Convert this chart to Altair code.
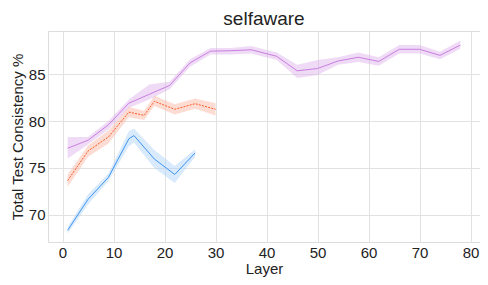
import altair as alt
import pandas as pd

# purple series
p_layers = [1, 5, 9, 13, 17, 21, 25, 29, 33, 37, 42, 46, 50, 54, 58, 62, 66, 70, 74, 78]
p_mean = [77.1, 77.95, 79.6, 81.9, 82.85, 83.8, 86.2, 87.45, 87.5, 87.6, 86.9, 85.35, 85.6, 86.4, 86.8, 86.35, 87.65, 87.65, 87.0, 88.1]
p_low = [76.0, 77.5, 79.1, 81.4, 82.3, 83.4, 85.8, 87.1, 87.1, 87.2, 86.5, 84.6, 84.9, 86.0, 86.3, 85.9, 87.2, 87.2, 86.6, 87.7]
p_high = [78.3, 78.3, 80.0, 82.3, 83.9, 84.2, 86.6, 87.8, 87.8, 88.0, 87.3, 86.0, 86.5, 86.8, 87.3, 86.8, 88.1, 88.1, 87.4, 88.6]

# orange series
o_layers = [1, 5, 9, 13, 16, 18, 22, 26, 30]
o_mean = [73.65, 76.8, 78.3, 80.95, 80.6, 82.1, 81.25, 81.85, 81.25]
o_low = [73.0, 76.2, 77.6, 80.4, 80.1, 81.6, 80.7, 81.3, 80.6]
o_high = [74.3, 77.4, 79.0, 81.5, 81.1, 82.7, 81.8, 82.4, 81.9]

# blue series
b_layers = [1, 5, 9, 13, 14, 18, 22, 26]
b_mean = [68.35, 71.65, 74.0, 78.1, 78.45, 75.95, 74.3, 76.6]
b_low = [68.0, 71.1, 73.6, 77.3, 77.7, 75.0, 73.4, 76.2]
b_high = [68.7, 72.2, 74.4, 78.9, 79.2, 76.9, 75.2, 77.0]

x_ticks = [0, 10, 20, 30, 40, 50, 60, 70, 80]
y_ticks = [70, 75, 80, 85]

xs = alt.Scale(domain=[-2.85, 81.85], nice=False, zero=False)
ys = alt.Scale(domain=[67.1, 89.6], nice=False, zero=False)

font = "Liberation Sans"

def series(layers, mean, low, high, line_color, band_color, dash=None):
    df = pd.DataFrame({"layer": layers, "mean": mean, "low": low, "high": high})
    base = alt.Chart(df)
    band = base.mark_area(color=band_color, opacity=0.45).encode(
        x=alt.X("layer:Q", scale=xs),
        y=alt.Y("low:Q", scale=ys),
        y2="high:Q",
    )
    kw = dict(color=line_color, strokeWidth=1)
    if dash:
        kw["strokeDash"] = dash
    line = base.mark_line(**kw).encode(
        x=alt.X("layer:Q", scale=xs, axis=alt.Axis(values=x_ticks, title="Layer")),
        y=alt.Y("mean:Q", scale=ys,
                axis=alt.Axis(values=y_ticks, title="Total Test Consistency %")),
    )
    return [band, line]

layers = (
    series(p_layers, p_mean, p_low, p_high, "#c97fe0", "#dcb0ec")
    + series(o_layers, o_mean, o_low, o_high, "#ff5a26", "#fbb49e", dash=[2, 1.2])
    + series(b_layers, b_mean, b_low, b_high, "#3d95f2", "#a9d1f7")
)

chart = alt.layer(*layers).properties(
    width=432,
    height=211,
    title=alt.TitleParams("selfaware", fontSize=19, font=font, fontWeight="normal",
                          color="#222222", offset=2),
    padding={"left": 40, "top": 23, "right": 0, "bottom": 35},
    autosize=alt.AutoSizeParams(type="none"),
).configure_axis(
    labelFont=font, titleFont=font, labelFontSize=15, titleFontSize=15,
    titleFontWeight="normal", labelColor="#222222", titleColor="#222222",
    gridColor="#e2e2e2", domain=False, ticks=False, labelPadding=3,
).configure_axisY(titlePadding=3).configure_axisX(titlePadding=1).configure_view(
    stroke="#dddddd", strokeWidth=1
)

chart.save("out.html", embed_options={"renderer": "svg", "actions": False})
